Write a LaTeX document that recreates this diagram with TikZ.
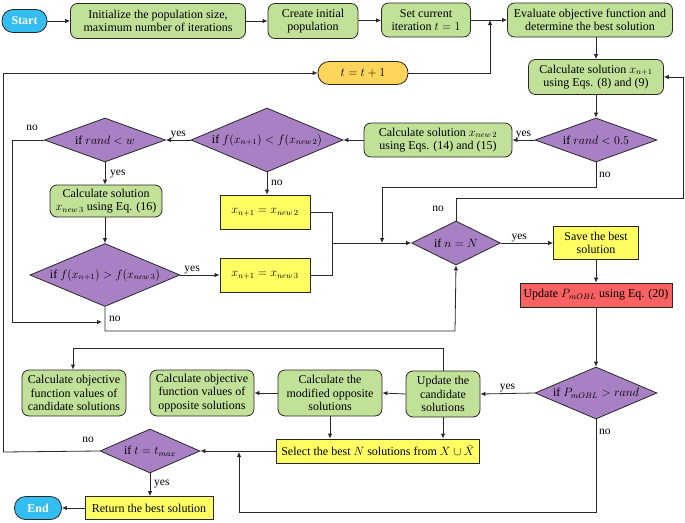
\documentclass[tikz,border=0pt]{standalone}
\usepackage{fontspec}
\setmainfont{Liberation Serif}
\usetikzlibrary{shapes.geometric,arrows.meta}
\definecolor{grn}{RGB}{193,225,153}
\definecolor{purp}{RGB}{168,128,196}
\definecolor{yel}{RGB}{255,255,100}
\definecolor{redb}{RGB}{248,98,98}
\definecolor{blu}{RGB}{52,189,240}
\definecolor{orn}{RGB}{255,213,90}
\definecolor{ln}{RGB}{40,40,40}
\tikzset{
  base/.style={draw=ln, line width=0.8pt, align=center, inner sep=0pt, font=\fontsize{12}{13.5}\selectfont},
  proc/.style={base, fill=grn, rounded corners=7pt},
  ybox/.style={base, fill=yel},
  dec/.style={base, diamond, fill=purp},
  term/.style={base, fill=blu, rounded corners=11pt, text=white, font=\fontsize{12}{13.5}\selectfont\bfseries},
  arr/.style={draw=ln, line width=0.8pt, -{Latex[length=5pt,width=4.5pt]}},
  lin/.style={draw=ln, line width=0.8pt},
  lbl/.style={font=\fontsize{11.5}{13}\selectfont, inner sep=1pt},
  sz/.style 2 args={minimum width=#1pt, minimum height=#2pt},
  dsz/.style n args={3}{minimum width=#1pt, minimum height=#2pt, aspect=#3},
}
\begin{document}
\begin{tikzpicture}[x=1pt,y=-1pt]
\useasboundingbox (0,0) rectangle (685,522);
% top row
\node[term, sz={45}{23}] (start) at (24.5,21) {Start};
\node[proc, sz={175}{35}] (init) at (158,21) {Initialize the population size,\\maximum number of iterations};
\node[proc, sz={90}{35}] (create) at (313,21) {Create initial\\population};
\node[proc, sz={89}{34}] (setit) at (426,20) {Set current\\iteration $t=1$};
\node[proc, sz={165}{34}] (eval) at (590,20) {Evaluate objective function and\\determine the best solution};
\node[base, fill=orn, rounded corners=11pt, sz={90}{23}] (tinc) at (363,73) {$t=t+1$};
\node[proc, sz={135}{35}] (calc1) at (596,77) {Calculate solution $x_{n+1}$\\using Eqs. (8) and (9)};
% second row
\node[dec, dsz={122}{44}{2.77}] (d05) at (596,140) {if $rand<0.5$};
\node[proc, sz={148}{34}] (calc2) at (438,140) {Calculate solution $x_{new\,2}$\\using Eqs. (14) and (15)};
\node[dec, dsz={152}{64}{2.375}] (dlt) at (267,140) {if $f(x_{n+1})<f(x_{new\,2})$};
\node[dec, dsz={121}{44}{2.75}] (drw) at (105,140) {if $rand<w$};
\node[proc, sz={112}{32}] (calc3) at (106,201) {Calculate solution\\$x_{new\,3}$ using Eq. (16)};
\node[ybox, sz={90}{34}] (eq2) at (265,212) {$x_{n+1}=x_{new\,2}$};
\node[dec, dsz={150}{63}{2.38}] (dgt) at (105,275) {if $f(x_{n+1})>f(x_{new\,3})$};
\node[ybox, sz={90}{34}] (eq3) at (265,275) {$x_{n+1}=x_{new\,3}$};
\node[dec, dsz={89}{44}{2.02}] (dnN) at (456,243) {if $n=N$};
\node[ybox, sz={85}{33}] (save) at (596,243) {Save the best\\solution};
\node[base, fill=redb, sz={152}{24}] (upd) at (596,295) {Update $P_{mOBL}$ using Eq. (20)};
% lower rows
\node[dec, dsz={122}{52}{2.35}] (dP) at (596,393) {if $P_{mOBL}>rand$};
\node[proc, sz={74}{46}] (cand) at (443,394) {Update the\\candidate\\solutions};
\node[proc, sz={104}{46}] (modop) at (330,393) {Calculate the\\modified opposite\\solutions};
\node[proc, sz={104}{46}] (objop) at (202,393) {Calculate objective\\function values of\\opposite solutions};
\node[proc, sz={104}{46}] (objcand) at (74,393) {Calculate objective\\function values of\\candidate solutions};
\node[ybox, sz={203}{24}] (select) at (378,451) {Select the best $N$ solutions from $X\cup\bar{X}$};
\node[dec, dsz={100}{44}{2.27}] (dt) at (150,451) {if $t=t_{max}$};
\node[ybox, sz={128}{23}] (ret) at (149,508) {Return the best solution};
\node[term, sz={47}{23}] (end) at (38,508) {End};
% coordinates
\coordinate (jTop) at (490,20);
\coordinate (jR) at (683,198);
\coordinate (jNo1) at (596,187);
\coordinate (jNo1b) at (382,187);
\coordinate (jMerge) at (332,243);
\coordinate (jL) at (12,140);
\coordinate (jL2) at (12,322);
\coordinate (jB) at (105,331);
\coordinate (jB2) at (455,331);
\coordinate (jC) at (443,348);
\coordinate (jC2) at (73,348);
\coordinate (jP) at (596,512);
\coordinate (jP2) at (239,512);
\coordinate (jOut) at (3,452);
\coordinate (jOut2) at (3,73);
% connectors top row
\draw[arr] (start) -- (init);
\draw[arr] (init) -- (create);
\draw[arr] (create) -- (setit);
\draw[arr] (setit.east |- 0,20) -- (eval.west |- 0,20);
\draw[arr] (tinc.east) -| (jTop);
\draw[arr] (jOut) -- (jOut2) -- (tinc.west);
\draw[arr] (eval.south -| calc1) -- (calc1.north);
\draw[arr] (calc1) -- (d05);
% d05
\draw[arr] (d05.west) -- (calc2.east) node[lbl, pos=0.5, above] {yes};
\draw[arr] (calc2.west) -- (dlt.east);
\draw[arr] (d05.south) -- (jNo1) -- (jNo1b) -- (jNo1b |- dnN.west);
\node[lbl, right] at (598,175) {no};
% dlt
\draw[arr] (dlt.west) -- (drw.east) node[lbl, pos=0.5, above] {yes};
\draw[arr] (dlt.south) -- (eq2.north -| dlt.south);
\node[lbl, right] at (270,183) {no};
% drw
\draw[arr] (drw.south) -- (calc3.north -| drw.south);
\node[lbl, right] at (109,174) {yes};
\draw[arr] (drw.west) -- (jL) -- (jL2) -- (102,322);
\node[lbl] at (32,128) {no};
\draw[arr] (calc3.south -| dgt.north) -- (dgt.north);
% dgt
\draw[arr] (dgt.east) -- (eq3.west) node[lbl, pos=0.3, above] {yes};
\draw[arr] (dgt.south) -- (jB) -- (jB2) -- (dnN.south);
\node[lbl, right] at (108,319) {no};
% merge
\draw[lin] (eq2.east) -| (jMerge);
\draw[lin] (eq3.east) -| (jMerge);
\draw[arr] (jMerge) -- (dnN.west);
% dnN
\draw[arr] (dnN.east) -- (save.west) node[lbl, pos=0.35, above] {yes};
\draw[arr] (dnN.north) -- (dnN.north |- jR) -- (jR) -- (jR |- calc1) -- (calc1.east);
\node[lbl] at (438,209) {no};
\draw[arr] (save) -- (upd);
\draw[arr] (upd) -- (dP);
% dP
\draw[arr] (dP.west) -- (cand.east) node[lbl, pos=0.5, above] {yes};
\draw[arr] (dP.south) -- (jP) -- (jP2) -- (239,452);
\node[lbl, right] at (598,432) {no};
% lower
\draw[arr] (cand.west) -- (modop.east);
\draw[arr] (modop.west) -- (objop.east);
\draw[arr] (cand.north) -- (jC) -- (jC2) -- (objcand.north -| jC2);
\draw[arr] (cand.south) -- (select.north -| cand.south);
\draw[arr] (modop.south) -- (select.north -| modop.south);
\draw[arr] (select.west) -- (dt.east);
\draw[lin] (dt.west) -- (jOut);
\node[lbl] at (88,440) {no};
\draw[arr] (dt.south) -- (ret.north -| dt.south);
\node[lbl, right] at (153,484) {yes};
\draw[arr] (ret.west) -- (end.east);
\end{tikzpicture}
\end{document}
